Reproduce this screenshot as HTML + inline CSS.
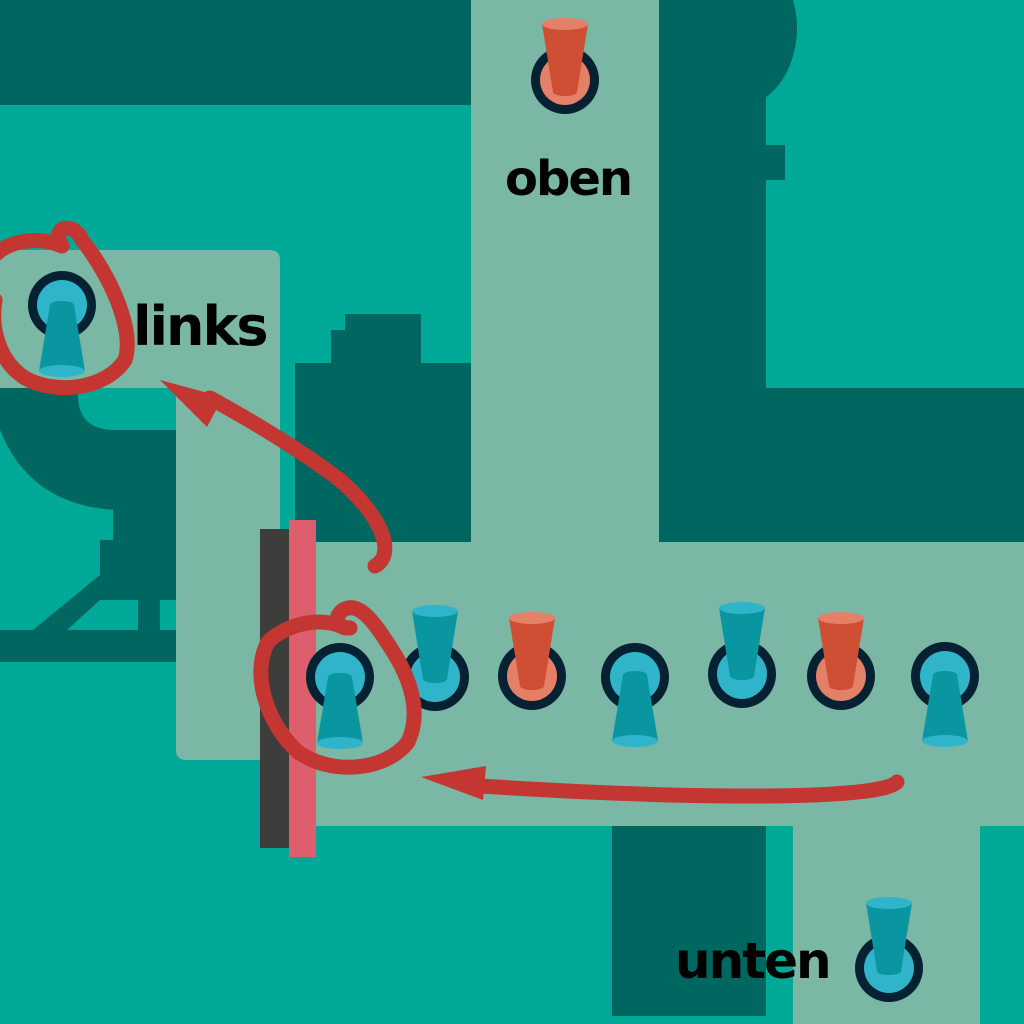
<!DOCTYPE html>
<html><head><style>html,body{margin:0;padding:0;background:#00a898}svg{display:block}</style></head>
<body>
<svg width="1024" height="1024" viewBox="0 0 1024 1024" xmlns="http://www.w3.org/2000/svg">
<defs>
<g id="ringB"><circle r="34" fill="#062232"/><circle r="25" fill="#30b4c9"/></g>
<g id="ringO"><circle r="34" fill="#062232"/><circle r="25" fill="#e58068"/></g>
<g id="coneDB"><path d="M-12,0 L12,0 L23,66 L-23,66 Z" fill="#0a96a0"/><ellipse cx="0" cy="0" rx="12" ry="4" fill="#0a96a0"/><ellipse cx="0" cy="66" rx="23" ry="6" fill="#30b4c9"/></g>
<g id="coneUB"><path d="M-23,0 L23,0 L12,68 L-12,68 Z" fill="#0a96a0"/><ellipse cx="0" cy="68" rx="12" ry="4" fill="#0a96a0"/><ellipse cx="0" cy="0" rx="23" ry="6" fill="#30b4c9"/></g>
<g id="coneUO"><path d="M-23,0 L23,0 L12,68 L-12,68 Z" fill="#cf4f35"/><ellipse cx="0" cy="68" rx="12" ry="4" fill="#cf4f35"/><ellipse cx="0" cy="0" rx="23" ry="6" fill="#e58068"/></g>
</defs>
<rect width="1024" height="1024" fill="#00a898"/>
<rect x="0" y="0" width="471" height="105" fill="#006660"/>
<rect x="659" y="0" width="107" height="545" fill="#006660"/>
<ellipse cx="735" cy="28" rx="62" ry="80" fill="#006660"/>
<rect x="760" y="145" width="25" height="35" fill="#006660"/>
<rect x="659" y="388" width="365" height="155" fill="#006660"/>
<rect x="295" y="363" width="176" height="180" fill="#006660"/>
<rect x="331" y="330" width="90" height="40" fill="#006660"/>
<rect x="345" y="314" width="76" height="20" fill="#006660"/>
<path d="M0,388 L176,388 L176,540 L113,540 L113,510 L115,510 Q30,505 0,430 Z" fill="#006660"/>
<path d="M78,388 L176,388 L176,430 L115,430 Q78,430 78,395 Z" fill="#00a898"/>
<rect x="100" y="540" width="76" height="60" fill="#006660"/>
<path d="M100,575 L100,600 L67,630 L33,630 Z" fill="#006660"/>
<rect x="138" y="598" width="22" height="35" fill="#006660"/>
<rect x="0" y="630" width="176" height="32" fill="#006660"/>
<rect x="471" y="0" width="188" height="545" fill="#7ab8a5"/>
<path d="M0,250 L270,250 Q280,250 280,260 L280,760 L186,760 Q176,760 176,750 L176,388 L0,388 Z" fill="#7ab8a5"/>
<rect x="280" y="542" width="744" height="284" fill="#7ab8a5"/>
<rect x="793" y="826" width="187" height="198" fill="#7ab8a5"/>
<rect x="612" y="826" width="154" height="190" fill="#006660"/>
<rect x="260" y="529" width="29" height="319" fill="#3d3d3b"/>
<rect x="289" y="520" width="27" height="337" fill="#dd5e6c"/>
<use href="#ringO" x="565" y="80"/><use href="#coneUO" x="565" y="24"/>
<use href="#ringB" x="62" y="305"/><use href="#coneDB" x="62" y="305"/>
<use href="#ringB" x="340" y="677"/><use href="#coneDB" x="340" y="677"/>
<use href="#ringB" x="435" y="677"/><use href="#coneUB" x="435" y="611"/>
<use href="#ringO" x="532" y="676"/><use href="#coneUO" x="532" y="618"/>
<use href="#ringB" x="635" y="677"/><use href="#coneDB" x="635" y="675"/>
<use href="#ringB" x="742" y="674"/><use href="#coneUB" x="742" y="608"/>
<use href="#ringO" x="841" y="676"/><use href="#coneUO" x="841" y="618"/>
<use href="#ringB" x="945" y="676"/><use href="#coneDB" x="945" y="675"/>
<use href="#ringB" x="889" y="968"/><use href="#coneUB" x="889" y="903"/>
<g font-family="'DejaVu Sans','Liberation Sans',sans-serif" font-weight="bold" fill="#000">
<text x="505" y="195" font-size="48" letter-spacing="-2">oben</text>
<text x="133" y="345" font-size="54" letter-spacing="-2">links</text>
<text x="675" y="978" font-size="50" letter-spacing="-2">unten</text>
</g>
<g fill="none" stroke="#c33632" stroke-width="15" stroke-linecap="round" stroke-linejoin="round">
<path d="M62,246 C40,236 10,240 -5,255 M62,246 C50,225 75,222 82,240 C110,275 135,330 125,360 C105,390 55,395 25,378 C0,362 -10,330 -5,300"/>
<path d="M345,628 C320,615 285,625 268,642 C250,675 268,725 298,752 C330,775 385,772 408,742 C422,712 410,678 392,650 C376,625 360,600 343,610 C333,617 337,628 350,628"/>
<path d="M375,566 C395,555 385,520 340,480 C300,450 250,420 210,398"/>
<path d="M897,782 C880,800 700,800 480,786"/>
</g>
<path d="M160,380 L223,397 L207,427 Z" fill="#c33632"/>
<path d="M421,777 L486,766 L483,800 Z" fill="#c33632"/>
</svg>
</body></html>
